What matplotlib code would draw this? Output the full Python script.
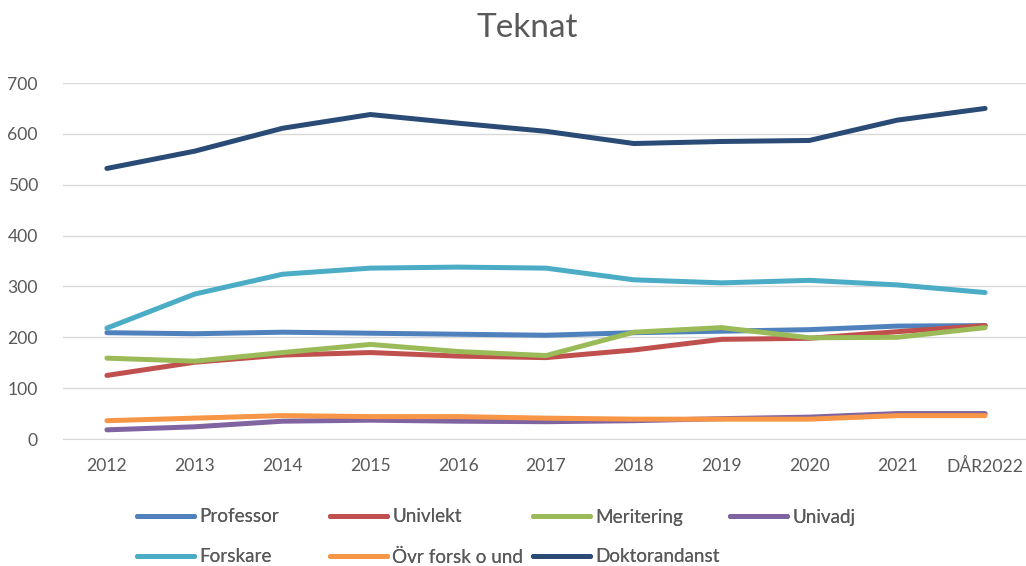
import matplotlib
matplotlib.use("Agg")
import matplotlib.pyplot as plt

years = ["2012", "2013", "2014", "2015", "2016", "2017", "2018", "2019", "2020", "2021", "DÅR2022"]
professor = [209, 207, 210, 208, 206, 204, 209, 212, 215, 222, 223]
univlekt = [125, 151, 165, 170, 163, 160, 175, 196, 198, 211, 223]
meritering = [159, 153, 170, 186, 172, 164, 210, 219, 199, 200, 219]
univadj = [18, 24, 35, 37, 35, 34, 36, 40, 43, 50, 50]
forskare = [218, 285, 324, 336, 338, 336, 313, 307, 312, 303, 288]
ovr = [36, 41, 46, 44, 44, 41, 39, 39, 39, 46, 46]
doktorand = [532, 566, 611, 638, 621, 605, 581, 585, 587, 627, 650]

series = [
    ("Professor", professor, "#4F81BD"),
    ("Univlekt", univlekt, "#C0504D"),
    ("Meritering", meritering, "#9BBB59"),
    ("Univadj", univadj, "#8064A2"),
    ("Forskare", forskare, "#4BACC6"),
    ("Övr forsk o und", ovr, "#F79646"),
    ("Doktorandanst", doktorand, "#2A4B76"),
]

W, H = 1026, 566
fig = plt.figure(figsize=(W / 100, H / 100), dpi=100)
plt.rcParams['font.family'] = ['Lato', 'DejaVu Sans']
ax = fig.add_axes([63 / W, 1 - 439 / H, 966 / W, 356 / H])

x = list(range(len(years)))
handles = []
for name, vals, col in series:
    ln, = ax.plot(x, vals, color=col, lw=3.6, solid_capstyle='round', solid_joinstyle='round', label=name)
    handles.append(ln)

ax.set_xlim(-0.5, len(years) - 0.5)
ax.set_ylim(0, 700)
ax.set_yticks(range(0, 701, 100))
ax.set_xticks(x)
ax.set_xticklabels(years)
ax.grid(axis='y', color='#D9D9D9', lw=1.0)
ax.set_axisbelow(True)
for s in ['top', 'right', 'left']:
    ax.spines[s].set_visible(False)
ax.spines['bottom'].set_color('#D9D9D9')
ax.tick_params(axis='both', length=0, colors='#595959', labelsize=12.6)
ax.tick_params(axis='x', pad=14)
ax.tick_params(axis='y', pad=18)

fig.text(527 / W, 1 - 28 / H, "Teknat", ha='center', va='center', fontsize=24, color='#595959')

pos = [(137, 517), (330, 517), (533, 517), (730, 517), (137, 557), (330, 557), (533, 557)]
for h, (px, py) in zip(handles, pos):
    lg = fig.legend(handles=[h], labels=[h.get_label()], loc='center left',
                    bbox_to_anchor=(px / W, 1 - py / H), frameon=False,
                    borderpad=0, borderaxespad=0, handlelength=3.0, handletextpad=0.3,
                    fontsize=13.6, labelcolor='#595959')
    fig.add_artist(lg)

fig.savefig("out.png", dpi=100)
